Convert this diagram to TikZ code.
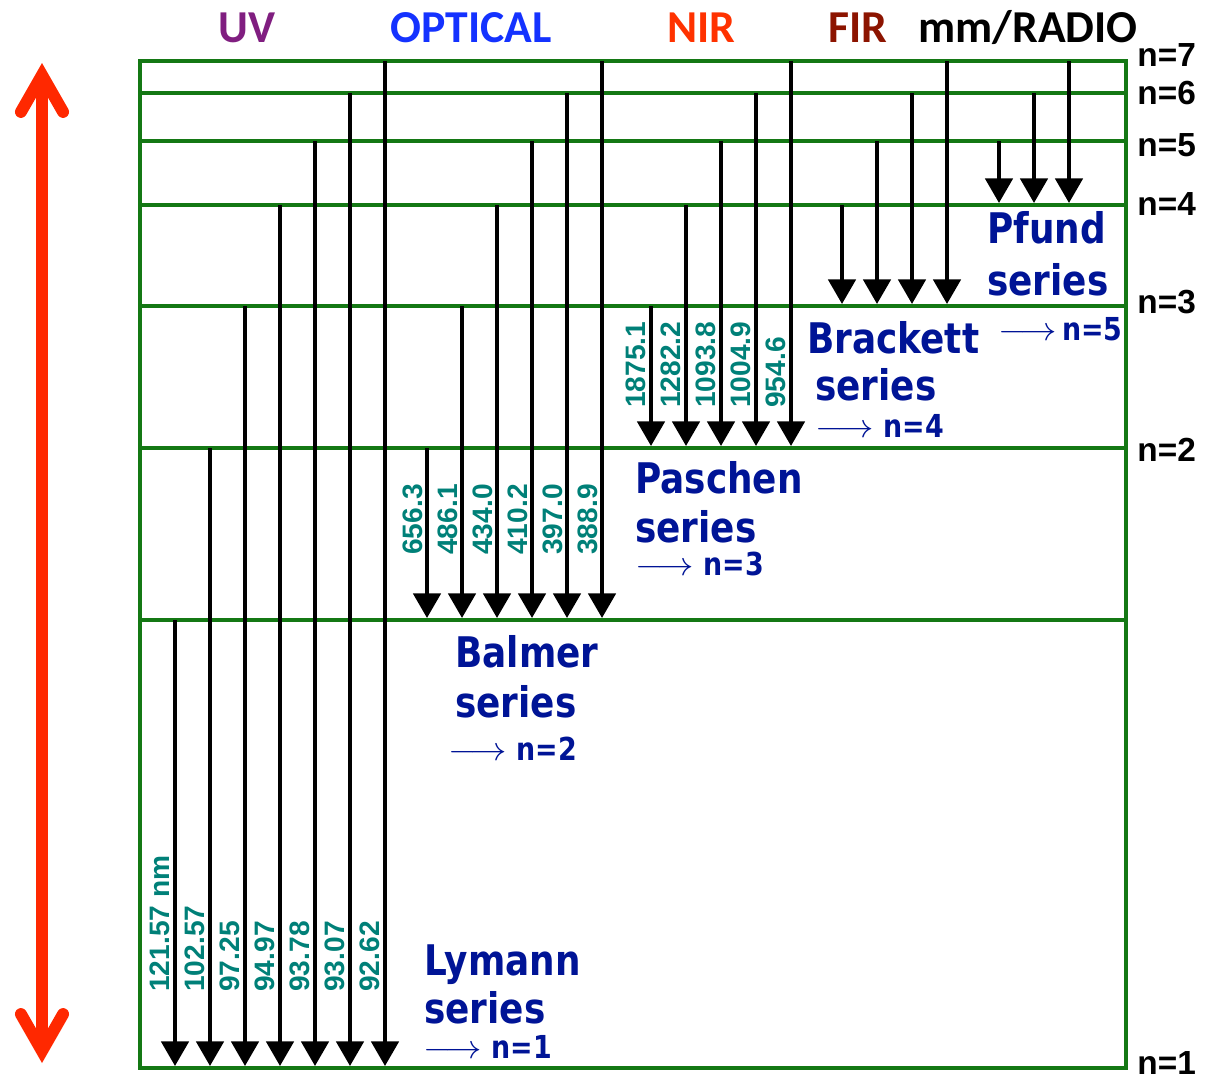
\documentclass[tikz,border=0pt]{standalone}
\usepackage{fontspec}
\setmainfont{Liberation Sans}
\newfontfamily\serfont{DejaVu Sans}[FakeStretch=0.85]
\newfontfamily\bandfont{Carlito}
\usetikzlibrary{arrows.meta}

\definecolor{lvlgreen}{RGB}{20,120,20}
\definecolor{serblue}{RGB}{0,20,150}
\definecolor{wlteal}{RGB}{0,128,120}
\definecolor{uvpurple}{RGB}{128,30,128}
\definecolor{optblue}{RGB}{20,50,255}
\definecolor{nirred}{RGB}{255,50,0}
\definecolor{firred}{RGB}{140,20,0}
\definecolor{arrowred}{RGB}{255,40,0}
\newcommand{\toarrow}{\scalebox{1.2}[1.1]{$\longrightarrow$}}

\begin{document}
\begin{tikzpicture}[x=0.02cm, y=-0.02cm,
    lvl/.style={lvlgreen, line width=2.3pt},
    trans/.style={line width=2.3pt, -{Triangle[length=14pt,width=15.5pt]}},
    wl/.style={wlteal, rotate=90, anchor=base west, inner sep=0pt, font=\fontsize{16}{16}\selectfont\bfseries},
    ser/.style={serblue, anchor=base west, inner sep=0pt, font=\serfont\fontsize{24}{24}\selectfont\bfseries},
    serto/.style={serblue, anchor=base west, inner sep=0pt, font=\serfont\fontsize{18}{18}\selectfont\bfseries},
    band/.style={anchor=base, inner sep=0pt, font=\bandfont\fontsize{26}{26}\selectfont\bfseries},
    nlab/.style={anchor=west, inner sep=0pt, font=\fontsize{19}{19}\selectfont\bfseries}]
    \useasboundingbox (0,0) rectangle (1211,1079);

    % Energy levels
    \draw[lvl] (140,61) rectangle (1126,1068);
    \foreach \y in {93,141,205,306,448,620}
        \draw[lvl] (140,\y) -- (1126,\y);

    % Transitions: \f = lower level, \xa = first arrow
    \foreach \f/\xa in {0/175,1/427,2/651,3/842,4/999}
        \foreach \k in {\f,...,6} {
            \pgfmathsetmacro\ya{{1068,620,448,306,205,141,93,61}[\k+1]}
            \pgfmathsetmacro\yb{{1068,620,448,306,205,141,93,61}[\f]-2}
            \pgfmathsetmacro\xx{\xa+35*(\k-\f)}
            \draw[trans] (\xx,\ya) -- (\xx,\yb);
        }

    % Wavelengths
    \foreach \t [count=\i from 0] in {121.57 nm,102.57,97.25,94.97,93.78,93.07,92.62}
        \node[wl] (lyw\i) at (169+35*\i,992) {\t};
    \foreach \t [count=\i from 0] in {656.3,486.1,434.0,410.2,397.0,388.9}
        \node[wl] (baw\i) at (422+35*\i,555) {\t};
    \foreach \t [count=\i from 0] in {1875.1,1282.2,1093.8,1004.9,954.6}
        \node[wl] (paw\i) at (645+35*\i,408) {\t};

    % Series names
    \node[ser] (lyman) at (424,975) {Lymann};
    \node[ser] (lymanser) at (424,1023) {series};
    \node[serto] (lymanto) at (423,1058) {\toarrow{} n=1};
    \node[ser] (balmer) at (455,667) {Balmer};
    \node[ser] (balmerser) at (455,717) {series};
    \node[serto] (balmerto) at (448,760) {\toarrow{} n=2};
    \node[ser] (paschen) at (635,493) {Paschen};
    \node[ser] (paschenser) at (635,542) {series};
    \node[serto] (paschento) at (635,575) {\toarrow{} n=3};
    \node[ser] (brackett) at (807,353) {Brackett};
    \node[ser] (brackettser) at (815,400) {series};
    \node[serto] (bracketto) at (815,437) {\toarrow{} n=4};
    \node[ser] (pfund) at (987,243) {Pfund};
    \node[ser] (pfundser) at (987,295) {series};
    \node[serto] (pfundto) at (998,340) {\toarrow\,n=5};

    % Level numbers
    \foreach \n/\y in {7/55,6/93,5/145,4/204,3/302,2/450,1/1063}
        \node[nlab] (n\n) at (1137,\y) {n=\n};

    % Bands
    \node[band, uvpurple] (uv) at (247,42) {UV};
    \node[band, optblue] (opt) at (471,42) {OPTICAL};
    \node[band, nirred] (nir) at (701,42) {NIR};
    \node[band, firred] (fir) at (858,42) {FIR};
    \node[band] (radio) at (1028,42) {mm/RADIO};

    % Energy axis
    \draw[arrowred, line width=6.8pt,
        {Straight Barb[length=21pt,width=24pt,line cap=round]}-{Straight Barb[length=21pt,width=24pt,line cap=round]}]
        (42,63) -- (42,1063);
\end{tikzpicture}
\end{document}
